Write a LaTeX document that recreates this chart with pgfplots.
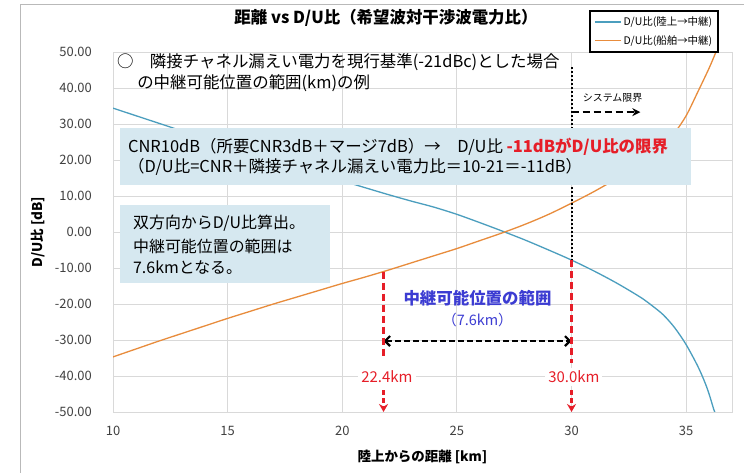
\documentclass[border=0pt]{standalone}
\usepackage{fontspec}
\setmainfont{Noto Sans CJK JP}
\usepackage{pgfplots}
\pgfplotsset{compat=1.18}
\usetikzlibrary{arrows.meta}

\definecolor{landblue}{RGB}{75,158,190}
\definecolor{shiporange}{RGB}{232,140,60}
\definecolor{gridgray}{RGB}{217,217,217}
\definecolor{boxblue}{RGB}{214,232,240}
\definecolor{tickgray}{RGB}{64,64,64}
\definecolor{annred}{RGB}{230,30,40}
\definecolor{annblue}{RGB}{60,60,210}

\begin{document}
\begin{tikzpicture}[x=1bp,y=1bp]
\useasboundingbox (0,0) rectangle (744,473);
\fill[white] (0,0) rectangle (744,473);
\draw[gray!55, line width=1bp] (20,0) -- (20,468) -- (744,468);
\begin{axis}[
    at={(113bp,61bp)}, anchor=south west,
    scale only axis, width=619bp, height=360bp,
    xmin=10, xmax=37, ymin=-50, ymax=50,
    xtick={10,15,...,35}, ytick={-50,-40,...,50},
    grid=major, grid style={draw=gridgray, line width=0.9bp},
    axis line style={draw=gridgray, line width=0.9bp},
    major tick length=0pt,
    /pgf/number format/assume math mode=true,
    tick label style={font=\fontsize{13}{15}\selectfont, text=tickgray},
    yticklabel style={/pgf/number format/.cd, fixed, fixed zerofill, precision=2, /tikz/.cd, anchor=east, inner sep=0pt, xshift=-21bp},
    xticklabel style={anchor=north, inner sep=0pt, yshift=-14bp},
    title={距離 vs D/U比（希望波対干渉波電力比）},
    title style={at={(0.441,1.078)}, anchor=center, font=\fontsize{16.5}{19}\selectfont\bfseries},
    xlabel={陸上からの距離 [km]},
    xlabel style={at={(0.5,-0.125)}, anchor=center, font=\fontsize{13.5}{16}\selectfont\bfseries},
    ylabel={D/U比 [dB]},
    ylabel style={at={(-0.121,0.5)}, anchor=center, font=\fontsize{13.5}{16}\selectfont\bfseries},
    legend style={name=leg, at={(0.978,1.114)}, anchor=north east, draw=none,
        fill=white, font=\fontsize{10.5}{12}\selectfont, inner xsep=4bp, inner ysep=4bp, row sep=4bp},
    legend cell align=left,
    legend image code/.code={\draw[#1] (0bp,0bp) -- (26bp,0bp);},
    legend image post style={line width=1.6bp},
]

% 陸上 -> 中継
\addplot[color=landblue, line width=1.3bp, smooth] coordinates {
    (10,34.4) (11,32.3) (12,30.2) (13,28.1) (14,26.1) (15,24.1) (16,22.1)
    (17,20.1) (18,18.1) (19,16.1) (20,14.2) (21,12.3) (22,10.4) (23,8.6)
    (24,6.9) (25,4.9) (26,2.6) (27,0.2) (28,-2.3) (29,-5.0) (30,-7.8)
    (31,-10.9) (32,-14.3) (33,-18.1) (33.5,-20.4) (34,-23.0) (34.5,-26.6)
    (35,-31.3) (35.5,-37.2) (35.8,-41.5) (36,-45.0) (36.2,-49.2) (36.25,-50)
};
\addlegendentry{D/U比(陸上→中継)}

% 船舶 -> 中継
\addplot[color=shiporange, line width=1.3bp, smooth] coordinates {
    (10,-34.7) (11,-32.5) (12,-30.3) (13,-28.2) (14,-26.1) (15,-24.0)
    (16,-22.0) (17,-20.0) (18,-18.1) (19,-16.2) (20,-14.3) (21,-12.5)
    (22,-10.6) (23,-8.6) (24,-6.6) (25,-4.6) (26,-2.4) (27,-0.2) (28,2.2)
    (29,4.9) (30,8.0) (31,11.3) (32,15.0) (33,19.3) (34,24.4) (34.5,27.6)
    (35,32.3) (35.5,38.8) (36,45.5) (36.3,50)
};
\addlegendentry{D/U比(船舶→中継)}

% system limit
\draw[black, line width=2bp, dotted] (axis cs:30,45.8) -- (axis cs:30,-7.8);
\node[font=\fontsize{10}{12}\selectfont] at (axis cs:31.79,37.2) {システム限界};
\draw[black, line width=2.3bp, dash pattern=on 7bp off 4bp, -{Stealth[length=8bp,width=8bp]}]
    (axis cs:30,33.3) -- (axis cs:33.0,33.3);

% boxes
\fill[boxblue] (axis cs:10.31,28.9) rectangle (axis cs:35.2,13.1);
\fill[boxblue] (axis cs:10.31,7.5) rectangle (axis cs:19.48,-14.2);

\node[anchor=west, inner sep=0pt, font=\fontsize{16.5}{18}\selectfont] at (axis cs:10.17,47.2)
    {○　隣接チャネル漏えい電力を現行基準(-21dBc)とした場合};
\node[anchor=west, inner sep=0pt, font=\fontsize{16.5}{18}\selectfont] at (axis cs:11.05,41.4)
    {の中継可能位置の範囲(km)の例};

\node[anchor=west, inner sep=0pt, font=\fontsize{16.5}{18}\selectfont] at (axis cs:10.65,23.8)
    {CNR10dB（所要CNR3dB＋マージ7dB）→　D/U比 \textcolor{annred}{\bfseries -11dBがD/U比の限界}};
\node[anchor=west, inner sep=0pt, font=\fontsize{16.5}{18}\selectfont] at (axis cs:10.65,18.1)
    {（D/U比=CNR＋隣接チャネル漏えい電力比＝10-21＝-11dB）};

\node[anchor=west, inner sep=0pt, font=\fontsize{16}{18}\selectfont] at (axis cs:10.87,2.5) {双方向からD/U比算出。};
\node[anchor=west, inner sep=0pt, font=\fontsize{16}{18}\selectfont] at (axis cs:10.87,-3.9) {中継可能位置の範囲は};
\node[anchor=west, inner sep=0pt, font=\fontsize{16}{18}\selectfont] at (axis cs:10.87,-10.0) {7.6kmとなる。};

% range
\node[text=annblue, font=\fontsize{16.5}{18}\selectfont\bfseries] at (axis cs:25.9,-18.3) {中継可能位置の範囲};
\node[text=annblue, font=\fontsize{14.5}{16}\selectfont] at (axis cs:25.9,-24.4) {（7.6km）};
\draw[black, line width=2.2bp, dash pattern=on 6bp off 3bp, {Straight Barb[length=5bp,width=10bp]}-{Straight Barb[length=5bp,width=10bp]}]
    (axis cs:21.8,-30.3) -- (axis cs:30,-30.3);

\draw[annred, line width=2.2bp, dash pattern=on 7bp off 4bp] (axis cs:21.8,-11.0) -- (axis cs:21.8,-35.0);
\draw[annred, line width=2.2bp, dash pattern=on 7bp off 4bp] (axis cs:30,-7.8) -- (axis cs:30,-36.4);
\node[fill=white, text=annred, font=\fontsize{15}{18}\selectfont, inner sep=3bp] at (axis cs:21.95,-40.3) {22.4km};
\node[fill=white, text=annred, font=\fontsize{15}{18}\selectfont, inner sep=3bp] at (axis cs:30.1,-40.3) {30.0km};
\draw[annred, line width=2.2bp, dash pattern=on 5bp off 3bp, -{Stealth[length=8bp,width=9bp]}] (axis cs:21.8,-43.9) -- (axis cs:21.8,-50);
\draw[annred, line width=2.2bp, dash pattern=on 5bp off 3bp, -{Stealth[length=8bp,width=9bp]}] (axis cs:30,-43.9) -- (axis cs:30,-50);

\end{axis}
\draw[black, line width=1.8bp] (leg.south west) rectangle (leg.north east);
\end{tikzpicture}
\end{document}
